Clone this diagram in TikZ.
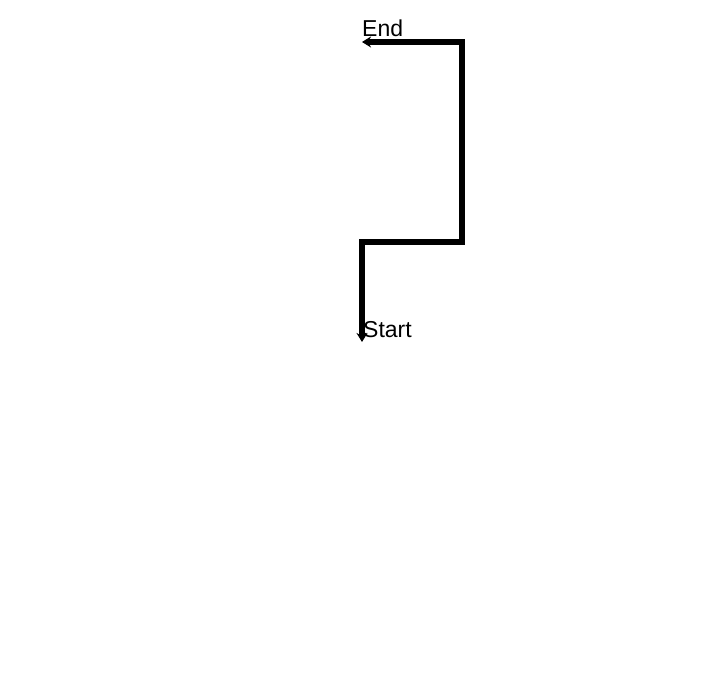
\documentclass[tikz,border=0pt]{standalone}
\usepackage{fontspec}
\setmainfont{Liberation Sans}
\usetikzlibrary{arrows.meta}
\tikzset{
  route/.style={line width=5.5pt, line join=miter, arrows={Stealth[length=9pt,width=11pt]-Stealth[length=9pt,width=11pt]}},
  lbl/.style={anchor=base west, inner sep=0pt, font=\fontsize{23}{25}\selectfont}
}
\begin{document}
\begin{tikzpicture}[x=1pt,y=1pt]
\useasboundingbox (0,0) rectangle (719,675);
\coordinate (s) at (362,333);
\coordinate (c1) at (362,433);
\coordinate (c2) at (462,433);
\coordinate (c3) at (462,633);
\coordinate (e) at (362,633);
\draw[route] (s) -- (c1) -- (c2) -- (c3) -- (e);
\node[lbl] (startlbl) at (363,337) {Start};
\node[lbl] (endlbl) at (362,638) {End};
\end{tikzpicture}
\end{document}
